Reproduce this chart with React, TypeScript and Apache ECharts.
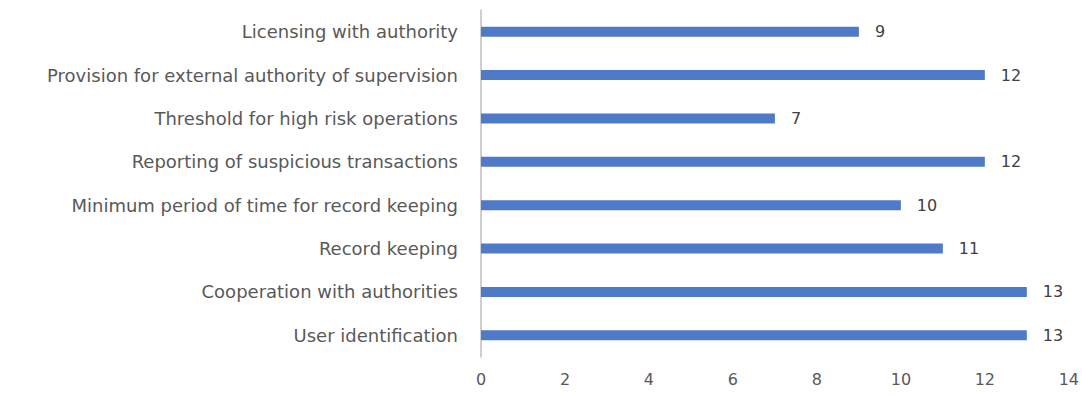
import React, { useEffect, useRef } from "react";
import * as echarts from "echarts";

const categories = [
  "Licensing with authority",
  "Provision for external authority of supervision",
  "Threshold for high risk operations",
  "Reporting of suspicious transactions",
  "Minimum period of time for record keeping",
  "Record keeping",
  "Cooperation with authorities",
  "User identification",
];
const values = [9, 12, 7, 12, 10, 11, 13, 13];

export default function App() {
  const ref = useRef<HTMLDivElement>(null);
  useEffect(() => {
    const chart = echarts.init(ref.current!, undefined, { renderer: "svg" });
    chart.setOption({
      animation: false,
      backgroundColor: "#ffffff",
      grid: { left: 481, right: 13, top: 10, bottom: 39, containLabel: false },
      xAxis: {
        type: "value",
        min: 0,
        max: 14,
        interval: 2,
        axisLine: { show: false },
        axisTick: { show: false },
        splitLine: { show: false },
        axisLabel: {
          color: "#595959",
          fontFamily: "DejaVu Sans",
          fontSize: 16,
          margin: 14,
        },
      },
      yAxis: {
        type: "category",
        data: categories.slice().reverse(),
        axisLine: { show: true, lineStyle: { color: "#BFBFBF", width: 1.5 } },
        axisTick: { show: false },
        axisLabel: {
          color: "#595959",
          fontFamily: "DejaVu Sans",
          fontSize: 18,
          margin: 23,
        },
      },
      series: [
        {
          type: "bar",
          data: values.slice().reverse(),
          barWidth: 10,
          itemStyle: { color: "#4F7AC7" },
          label: {
            show: true,
            position: "right",
            distance: 16,
            color: "#404040",
            fontFamily: "DejaVu Sans",
            fontSize: 16,
          },
        },
      ],
    });
    return () => chart.dispose();
  }, []);
  return (
    <div
      ref={ref}
      style={{ position: "fixed", left: 0, top: 0, width: 1082, height: 396 }}
    />
  );
}
